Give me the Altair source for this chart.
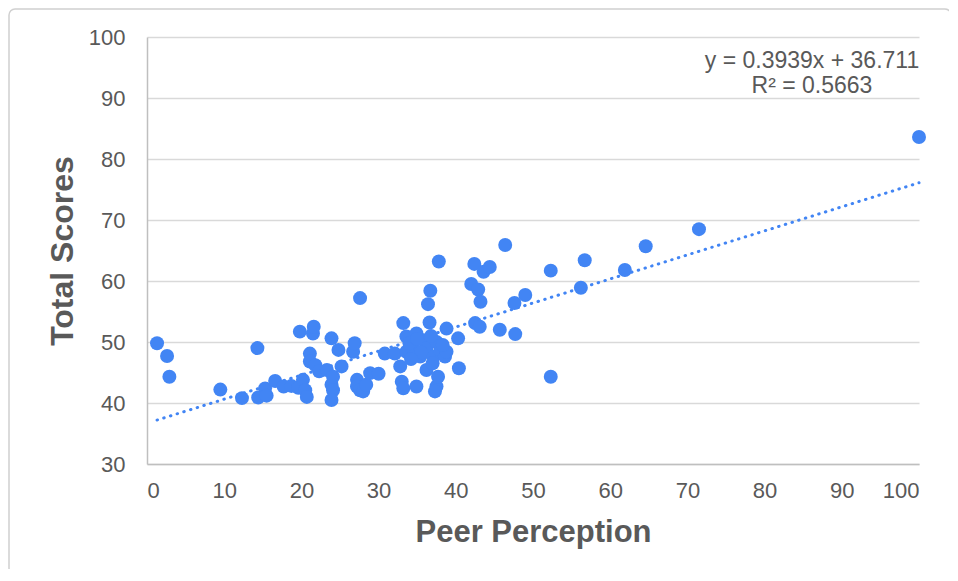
import altair as alt
import pandas as pd

# Scatter data
peer = [1.3, 2.6, 2.9, 9.5, 12.3, 14.4, 14.3, 15.3, 15.5, 16.6, 17.7, 18.7, 19.6, 19.8,
        20.2, 20.5, 20.7, 21.1, 21.1, 21.5, 21.6, 21.8, 22.3, 23.3, 23.9, 23.9, 24.1,
        24.1, 23.9, 24.8, 25.2, 26.7, 26.9, 27.2, 27.2, 27.6, 27.6, 28.0, 28.4, 28.9,
        30.0, 30.8, 32.1, 32.8, 33.0, 33.2, 33.2, 33.6, 33.6, 34.5, 34.9, 34.9, 35.4,
        35.8, 36.2, 36.2, 36.4, 36.6, 36.7, 37.1, 37.5, 37.5, 37.3, 37.7, 37.8, 38.0,
        38.6, 38.8, 38.8, 40.3, 40.4, 42.0, 42.4, 42.5, 42.9, 43.1, 43.2, 43.6, 44.4,
        45.7, 46.4, 47.6, 47.7, 49.0, 52.3, 52.3, 56.2, 56.7, 61.9, 64.6, 71.5, 100.0,
        34.0, 35.0, 36.8, 38.3, 35.5, 34.2, 37.0]
total = [49.8, 47.7, 44.3, 42.2, 40.8, 40.9, 49.0, 42.4, 41.2, 43.6, 42.7, 42.8, 42.5, 51.7,
         43.8, 42.1, 41.0, 48.1, 46.8, 51.4, 52.5, 46.2, 45.2, 45.4, 50.6, 43.0, 44.3,
         42.1, 40.5, 48.7, 46.0, 48.4, 49.8, 43.8, 42.7, 42.1, 57.2, 41.9, 43.0, 44.9,
         44.8, 48.1, 48.1, 46.0, 43.5, 42.4, 53.1, 50.9, 48.4, 49.0, 51.4, 42.7, 47.6,
         50.3, 49.0, 45.4, 56.2, 53.2, 58.4, 47.6, 50.0, 42.7, 41.9, 44.3, 63.2, 48.7,
         47.6, 48.4, 52.2, 50.6, 45.7, 59.5, 62.8, 53.1, 58.6, 52.5, 56.6, 61.5, 62.3,
         52.0, 65.9, 56.4, 51.3, 57.7, 61.7, 44.3, 58.9, 63.4, 61.8, 65.7, 68.5, 83.6,
         49.8, 50.5, 51.0, 49.5, 48.3, 47.2, 46.5]

# Trend line end points
trend_x = [1.3, 100.0]
trend_y = [37.2, 76.1]

# Annotation text
annotation = ["y = 0.3939x + 36.711", "R\u00b2 = 0.5663"]

pts = pd.DataFrame({"Peer Perception": peer, "Total Scores": total})
trend = pd.DataFrame({"Peer Perception": trend_x, "Total Scores": trend_y})

BLUE = "#4285F4"
GRAY = "#595959"
FONT = "Liberation Sans"
W, H = 772, 427

xscale = alt.Scale(domain=[0, 100], nice=False, zero=False)
yscale = alt.Scale(domain=[30, 100], nice=False, zero=False)

xaxis = alt.Axis(values=list(range(0, 101, 10)), grid=False, ticks=False,
                 domain=True, domainColor="#bfbfbf", domainWidth=1.5,
                 labelFont=FONT, labelFontSize=22, labelColor=GRAY, labelPadding=16,
                 title="Peer Perception", titleFont=FONT, titleFontSize=31,
                 titleFontWeight="bold", titleColor=GRAY, titleX=W / 2, titleY=68,
                 titleAlign="center", titleBaseline="middle")
yaxis = alt.Axis(values=list(range(30, 101, 10)), grid=True, gridColor="#d9d9d9",
                 gridWidth=1.5, ticks=False, domain=True, domainColor="#bfbfbf",
                 domainWidth=1.5, labelFont=FONT, labelFontSize=22, labelColor=GRAY,
                 labelPadding=22,
                 title="Total Scores", titleFont=FONT, titleFontSize=32,
                 titleFontWeight="bold", titleColor=GRAY, titleX=-85, titleY=H / 2,
                 titleAngle=270, titleAlign="center", titleBaseline="middle")

border = alt.Chart(pd.DataFrame({"a": [0]})).mark_rect(
    filled=False, stroke="#d0d0d0", strokeWidth=1.5, cornerRadius=6
).encode(x=alt.value(-138), x2=alt.value(804), y=alt.value(-28), y2=alt.value(537))

points = alt.Chart(pts).mark_circle(size=195, color=BLUE, opacity=1).encode(
    x=alt.X("Peer Perception:Q", scale=xscale, axis=xaxis),
    y=alt.Y("Total Scores:Q", scale=yscale, axis=yaxis),
)

line = alt.Chart(trend).mark_line(
    color=BLUE, strokeWidth=3, strokeDash=[0.5, 6.5], strokeCap="round"
).encode(
    x=alt.X("Peer Perception:Q", scale=xscale),
    y=alt.Y("Total Scores:Q", scale=yscale),
)

ann1 = alt.Chart(pd.DataFrame({"t": [annotation[0]]})).mark_text(
    font=FONT, fontSize=23, color=GRAY, align="center", baseline="middle"
).encode(x=alt.value(665), y=alt.value(24), text="t:N")
ann2 = alt.Chart(pd.DataFrame({"t": [annotation[1]]})).mark_text(
    font=FONT, fontSize=23, color=GRAY, align="center", baseline="middle"
).encode(x=alt.value(665), y=alt.value(49), text="t:N")

chart = alt.layer(border, line, points, ann1, ann2).properties(
    width=W, height=H,
    autosize=alt.AutoSizeParams(type="none"),
    padding={"left": 139, "top": 29, "right": 30, "bottom": 105},
    background="white",
).configure_view(stroke=None)

chart.save("out.html", embed_options={"renderer": "svg", "actions": False})
